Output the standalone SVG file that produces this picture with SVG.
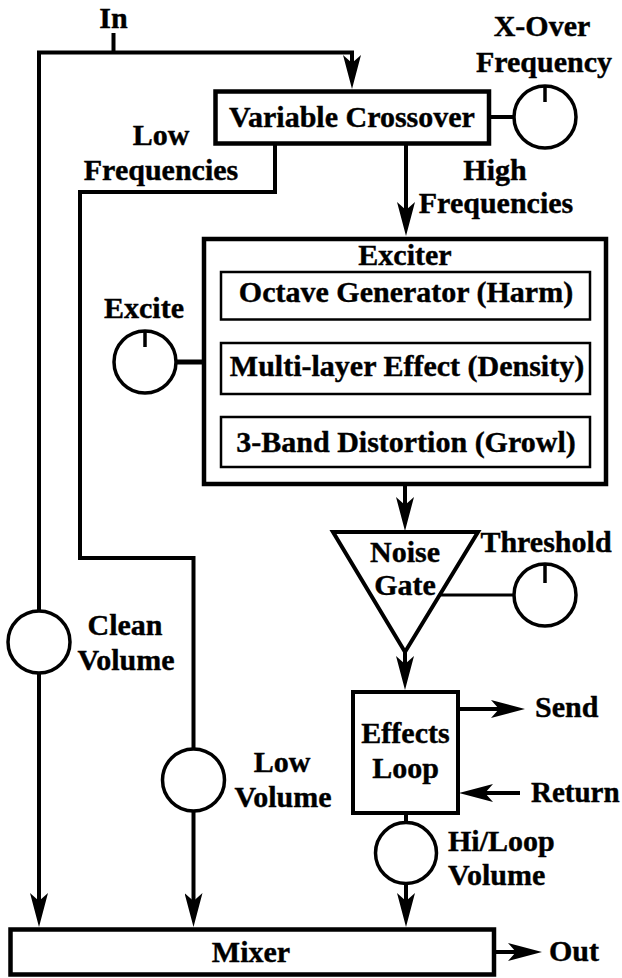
<svg xmlns="http://www.w3.org/2000/svg" width="622" height="978" viewBox="0 0 622 978">
<style>
text{font-family:'Liberation Serif','Times New Roman',serif;font-weight:bold;font-size:30px;fill:#000;stroke:#000;stroke-width:0.4}
.m{text-anchor:middle}
.box{fill:#fff;stroke:#000;stroke-width:4.5}
.inner{fill:#fff;stroke:#000;stroke-width:2.5}
.knob{fill:#fff;stroke:#000;stroke-width:3.5}
.w{fill:none;stroke:#000;stroke-width:4}
.thin{fill:none;stroke:#000;stroke-width:1.8}
</style>
<defs>
<marker id="ah" viewBox="0 0 34 18" refX="8" refY="9" markerWidth="34" markerHeight="18" markerUnits="userSpaceOnUse" orient="auto">
<path d="M0,0 L34,9 L0,18 L8,9 Z" fill="#000"/>
</marker>
<marker id="sh" viewBox="0 0 14 8" refX="3" refY="4" markerWidth="14" markerHeight="8" markerUnits="userSpaceOnUse" orient="auto">
<path d="M0,0 L14,4 L0,8 L3,4 Z" fill="#000"/>
</marker>
</defs>
<rect width="622" height="978" fill="#fff"/>
<g id="connectors">
<path class="w" d="M113.5,33 V52.5"/>
<path class="w" d="M39,625 V52.5 H352 V63" marker-end="url(#ah)"/>
<path class="w" d="M39,673 V901" marker-end="url(#ah)"/>
<path class="w" d="M275,144 V192 H80 V558 H193.5 V763"/>
<path class="w" d="M193.5,811 V901" marker-end="url(#ah)"/>
<path class="w" d="M406,144 V210" marker-end="url(#ah)"/>
<path class="w" d="M489,117 H514"/>
<path class="w" d="M176,362 H204" style="stroke-width:5"/>
<path class="thin" d="M405,320 V332" marker-end="url(#sh)"/>
<path class="thin" d="M405,394 V406" marker-end="url(#sh)"/>
<path class="w" d="M405,484 V505" marker-end="url(#ah)"/>
<path class="w" d="M440,595 H514" style="stroke-width:3"/>
<path class="w" d="M405,650 V664" marker-end="url(#ah)"/>
<path class="w" d="M458,709 H499" marker-end="url(#ah)"/>
<path class="w" d="M520,793 H485" marker-end="url(#ah)"/>
<path class="w" d="M406,813 V838"/>
<path class="w" d="M406,883 V901" marker-end="url(#ah)"/>
<path class="w" d="M494,952 H516" marker-end="url(#ah)"/>
</g>
<g id="in-label"><text class="m" x="113.5" y="28">In</text></g>
<g id="crossover">
<rect class="box" x="215.5" y="91.5" width="273.5" height="52"/>
<text class="m" x="352" y="127">Variable Crossover</text>
</g>
<g id="xover-knob">
<circle class="knob" cx="545" cy="117" r="31"/>
<path class="w" d="M545,86 V102" style="stroke-width:3.5"/>
<text class="m" x="542" y="36">X-Over</text>
<text class="m" x="544" y="72">Frequency</text>
</g>
<g id="low-freq-label">
<text class="m" x="161" y="145">Low</text>
<text class="m" x="161" y="180">Frequencies</text>
</g>
<g id="high-freq-label">
<text class="m" x="495" y="180">High</text>
<text class="m" x="496" y="213">Frequencies</text>
</g>
<g id="exciter">
<rect class="box" x="204" y="239" width="402" height="245"/>
<text class="m" x="405" y="265">Exciter</text>
<rect class="inner" x="221" y="272" width="369" height="47.5"/>
<text class="m" x="406" y="302">Octave Generator (Harm)</text>
<rect class="inner" x="221" y="343" width="369" height="51"/>
<text class="m" x="407" y="376">Multi-layer Effect (Density)</text>
<rect class="inner" x="221" y="417" width="369" height="50"/>
<text class="m" x="406" y="452">3-Band Distortion (Growl)</text>
</g>
<g id="excite-knob">
<circle class="knob" cx="145" cy="362" r="31"/>
<path class="w" d="M145,331 V347" style="stroke-width:3.5"/>
<text class="m" x="144" y="318">Excite</text>
</g>
<g id="noise-gate">
<polygon points="333,532 478,532 405,652" fill="#fff" stroke="#000" stroke-width="4" stroke-linejoin="miter"/>
<text class="m" x="405" y="562">Noise</text>
<text class="m" x="405" y="595">Gate</text>
</g>
<g id="threshold-knob">
<circle class="knob" cx="545" cy="595" r="31"/>
<path class="w" d="M545,564 V583" style="stroke-width:3.5"/>
<text class="m" x="546" y="552">Threshold</text>
</g>
<g id="effects-loop">
<rect class="box" x="353" y="692" width="105" height="121" style="stroke-width:4"/>
<text class="m" x="405.5" y="743">Effects</text>
<text class="m" x="405.5" y="778">Loop</text>
</g>
<g id="send"><text x="535" y="717">Send</text></g>
<g id="return"><text x="531" y="802" style="font-size:29px">Return</text></g>
<g id="clean-volume-knob">
<circle class="knob" cx="39" cy="642" r="31"/>
<text class="m" x="125" y="635">Clean</text>
<text class="m" x="126" y="670">Volume</text>
</g>
<g id="low-volume-knob">
<circle class="knob" cx="193.5" cy="780" r="31"/>
<text class="m" x="282" y="772">Low</text>
<text class="m" x="283" y="807">Volume</text>
</g>
<g id="hiloop-volume-knob">
<circle class="knob" cx="406" cy="853" r="30.5"/>
<text x="448" y="851">Hi/Loop</text>
<text x="448" y="885">Volume</text>
</g>
<g id="mixer">
<rect class="box" x="10.5" y="929.5" width="483.5" height="45" style="stroke-width:4.5"/>
<text class="m" x="251" y="962">Mixer</text>
</g>
<g id="out"><text x="549" y="961">Out</text></g>
</svg>
